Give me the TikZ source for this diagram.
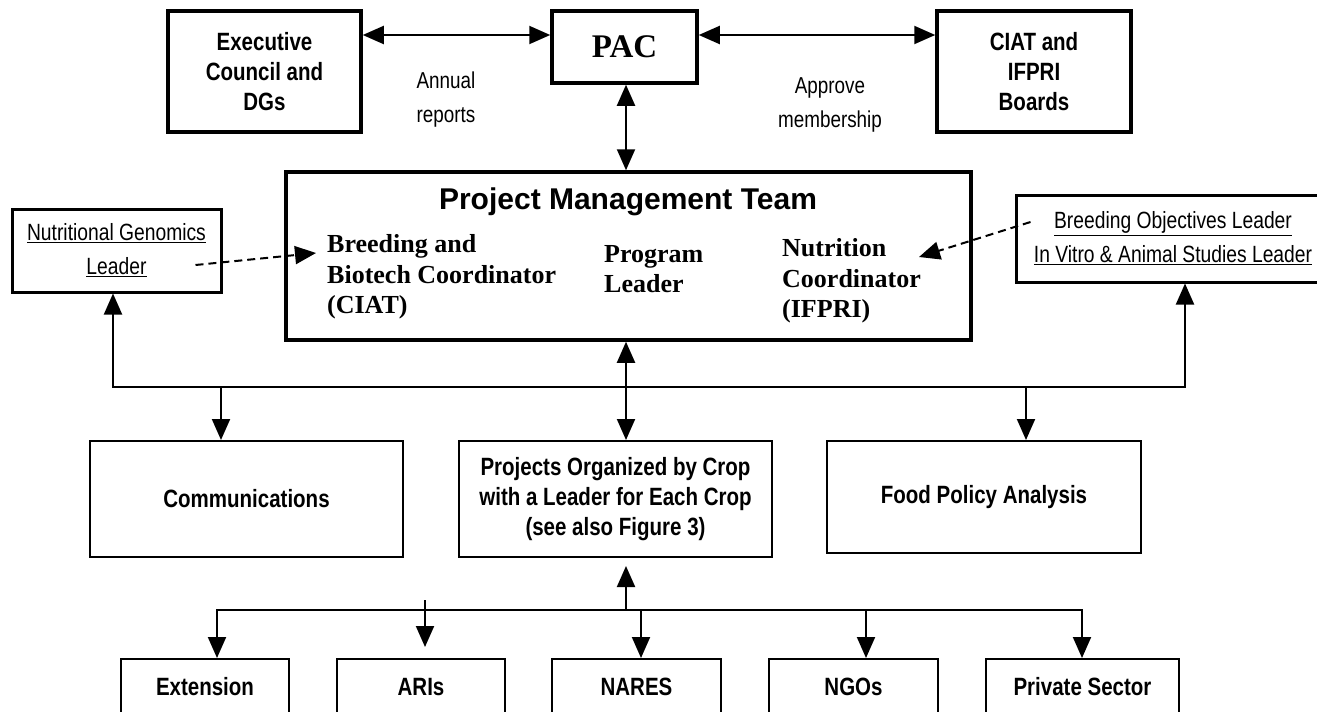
\documentclass[tikz,border=0pt]{standalone}
\usepackage{fontspec}
\setmainfont{Liberation Serif}
\setsansfont{Liberation Sans}
\newfontfamily\narrow[FakeStretch=0.82]{Liberation Sans}
\usepackage{tikz}
\usetikzlibrary{arrows.meta}

\begin{document}
\begin{tikzpicture}[x=1pt,y=-1pt,
    box/.style={draw,line width=2pt,inner sep=0pt,align=center,font={\narrow\bfseries\fontsize{25}{30}\selectfont}},
    bigbox/.style={box,line width=3.5pt},
    lead/.style={draw,line width=3pt,inner sep=0pt,align=center,font={\narrow\fontsize{23.5}{34}\selectfont}},
    serif/.style={inner sep=0pt,align=left,font={\bfseries\fontsize{26}{30.5}\selectfont}},
    lbl/.style={inner sep=0pt,align=center,font={\narrow\fontsize{23}{34}\selectfont}},
    tri/.style={-{Triangle[length=21pt,width=18pt]},line width=2pt},
    dbl/.style={{Triangle[length=21pt,width=18pt]}-{Triangle[length=21pt,width=18pt]},line width=2pt},
    dsh/.style={tri,dash pattern=on 8pt off 5pt}]
\useasboundingbox (0,0) rectangle (1317,712);
\clip (0,0) rectangle (1317,712);

% top row
\node[bigbox,minimum width=193pt,minimum height=121pt] (exec) at (264.5,71.5) {Executive\\Council and\\DGs};
\node[bigbox,minimum width=145pt,minimum height=72pt,font={\rmfamily\bfseries\fontsize{33}{36}\selectfont}] (pac) at (624.5,47) {PAC};
\node[bigbox,minimum width=194pt,minimum height=121pt] (boards) at (1034,71.5) {CIAT and\\IFPRI\\Boards};
\node[lbl] (annual) at (446,100) {Annual\\reports};
\node[lbl] (approve) at (830,105) {Approve\\membership};

% management team
\node[bigbox,minimum width=685pt,minimum height=168pt] (pmt) at (628.5,256) {};
\node[inner sep=0pt,font={\sffamily\bfseries\fontsize{30}{33}\selectfont}] (pmtt) at (628,202) {Project Management Team};
\node[serif,anchor=west] (bbc) at (327,277) {Breeding and\\Biotech Coordinator\\(CIAT)};
\node[serif,anchor=west] (prl) at (604,269) {Program\\Leader};
\node[serif,anchor=west] (nuc) at (782,281) {Nutrition\\Coordinator\\(IFPRI)};

\node[lead,minimum width=209pt,minimum height=83pt] (ngl) at (116.5,250.5) {\underline{Nutritional Genomics}\\\underline{Leader}};
\node[lead,minimum width=314pt,minimum height=87pt] (bol) at (1173,238.5) {\underline{Breeding Objectives Leader}\\\underline{In Vitro \& Animal Studies Leader}};

% middle row
\node[box,minimum width=313pt,minimum height=116pt] (comm) at (246.5,499) {Communications};
\node[box,minimum width=313pt,minimum height=116pt] (proj) at (615.5,499) {Projects Organized by Crop\\with a Leader for Each Crop\\(see also Figure 3)};
\node[box,minimum width=314pt,minimum height=112pt] (food) at (984,497) {Food Policy Analysis};

% bottom row
\node[box,minimum width=168pt,minimum height=56pt] (ext) at (205,687) {Extension};
\node[box,minimum width=168pt,minimum height=56pt] (aris) at (421,687) {ARIs};
\node[box,minimum width=169pt,minimum height=56pt] (nares) at (636.5,687) {NARES};
\node[box,minimum width=169pt,minimum height=56pt] (ngo) at (853.5,687) {NGOs};
\node[box,minimum width=193pt,minimum height=56pt] (priv) at (1082.5,687) {Private Sector};

\coordinate (ya) at (0,35);
\coordinate (bl) at (113,387);
\coordinate (br) at (1185,387);
\coordinate (bc) at (221,387);
\coordinate (bf) at (1026,387);
\coordinate (bp) at (626,387);
\coordinate (e1) at (217,610);
\coordinate (p1) at (1082,610);
\coordinate (bb) at (626,610);
\coordinate (ai) at (425,600);
\coordinate (na) at (641,610);
\coordinate (ng) at (866,610);
\coordinate (bbin) at (316,253);
\coordinate (ncin) at (919,257);

\draw[dbl] (exec.east |- ya) -- (pac.west |- ya);
\draw[dbl] (pac.east |- ya) -- (boards.west |- ya);
\draw[dbl] (pac.south -| bp) -- (pmt.north -| bp);
\draw[dsh] ([xshift=-27pt,yshift=-14.5pt]ngl.east) -- (bbin);
\draw[dsh] ([xshift=16pt,yshift=16.5pt]bol.west) -- (ncin);

\draw[dbl] (bl |- ngl.south) -- (bl) -- (br) -- (br |- bol.south);
\draw[tri] (bc) -- (bc |- comm.north);
\draw[tri] (bf) -- (bf |- food.north);
\draw[dbl] (pmt.south -| bp) -- (proj.north -| bp);

\draw[dbl] (e1 |- ext.north) -- (e1) -- (p1) -- (p1 |- priv.north);
\draw[tri,shorten >=8pt] (bb) -- (bb |- proj.south);
\draw[tri,shorten >=11pt] (ai) -- (ai |- aris.north);
\draw[tri] (na) -- (na |- nares.north);
\draw[tri] (ng) -- (ng |- ngo.north);
\end{tikzpicture}
\end{document}
